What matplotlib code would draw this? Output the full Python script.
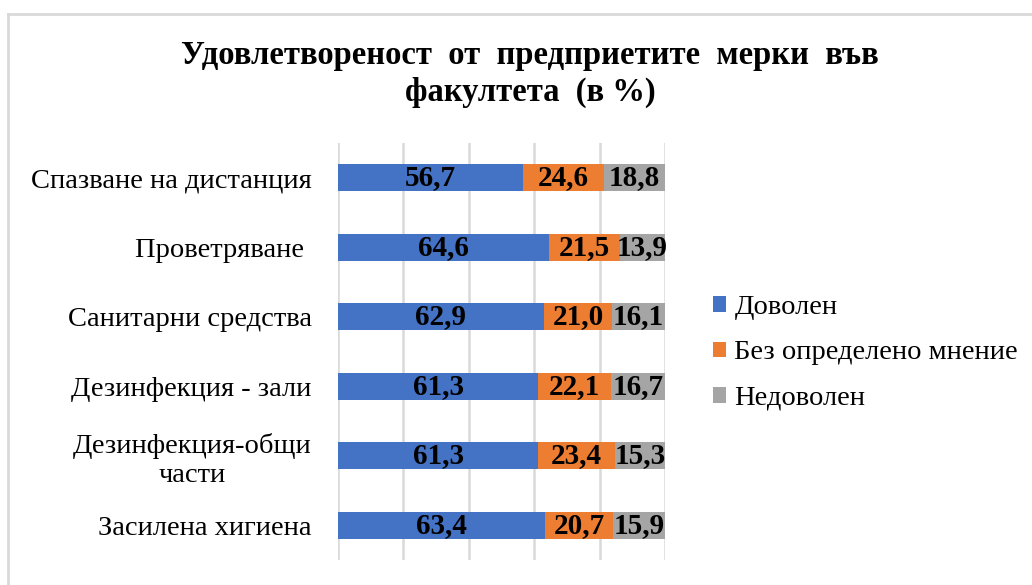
import numpy as np
import matplotlib
matplotlib.use("Agg")
import matplotlib.pyplot as plt
from matplotlib.patches import Patch
from matplotlib.lines import Line2D

plt.rcParams['font.family'] = ['Liberation Serif', 'DejaVu Serif']

categories = ['Спазване на дистанция', 'Проветряване ', 'Санитарни средства',
              'Дезинфекция - зали', 'Дезинфекция-общи\nчасти', 'Засилена хигиена']
series_names = ['Доволен', 'Без определено мнение', 'Недоволен']
dovolen = [56.7, 64.6, 62.9, 61.3, 61.3, 63.4]
bez_mnenie = [24.6, 21.5, 21.0, 22.1, 23.4, 20.7]
nedovolen = [18.8, 13.9, 16.1, 16.7, 15.3, 15.9]

colors = ['#4472C4', '#ED7D31', '#A5A5A5']
title = 'Удовлетвореност  от  предприетите  мерки  във\nфакултета  (в %)'

fig = plt.figure(figsize=(10.32, 5.85), dpi=100)
ax = fig.add_axes([338 / 1032, 1 - 560 / 585, 327 / 1032, 417 / 585])

y = np.arange(len(categories))
left = np.zeros(len(categories))
for vals, col in zip([dovolen, bez_mnenie, nedovolen], colors):
    vals = np.array(vals)
    bars = ax.barh(y, vals, left=left, height=0.39, color=col, zorder=3)
    for b, v in zip(bars, vals):
        ax.text(b.get_x() + b.get_width() / 2, b.get_y() + b.get_height() / 2,
                f'{v:.1f}'.replace('.', ','), ha='center', va='center',
                fontsize=21, fontweight='bold', color='black', zorder=4)
    left += vals

ax.set_xlim(0, 100)
ax.set_ylim(len(categories) - 0.5, -0.5)
ax.set_xticks(np.arange(0, 101, 20))
ax.set_xticklabels([])
ax.tick_params(axis='x', length=0)
ax.grid(axis='x', color='#D9D9D9', lw=1.8, zorder=0)
ax.set_yticks(y)
ax.set_yticklabels(categories, fontsize=20.5)
ax.tick_params(axis='y', length=0, pad=19)
for lab in ax.get_yticklabels():
    lab.set_multialignment('center')
for s in ax.spines.values():
    s.set_visible(False)

fig.text(530 / 1032, 1 - 74 / 585, title, ha='center', va='center',
         fontsize=23.5, fontweight='bold', linespacing=1.25)

handles = [Patch(facecolor=c, edgecolor='none') for c in colors]
fig.legend(handles, series_names, loc='center left',
           bbox_to_anchor=(693 / 1032, 1 - 353 / 585), frameon=False,
           fontsize=20.5, handlelength=0.45, handleheight=0.45, handletextpad=0.3,
           labelspacing=0.72, borderpad=0.2)

# light chart frame
fig.add_artist(Line2D([8 / 1032, 1], [1 - 14 / 585, 1 - 14 / 585],
                      color='#D9D9D9', lw=2, transform=fig.transFigure))
fig.add_artist(Line2D([8 / 1032, 8 / 1032], [0, 1 - 14 / 585],
                      color='#D9D9D9', lw=2, transform=fig.transFigure))

fig.savefig('out.png', dpi=100)
